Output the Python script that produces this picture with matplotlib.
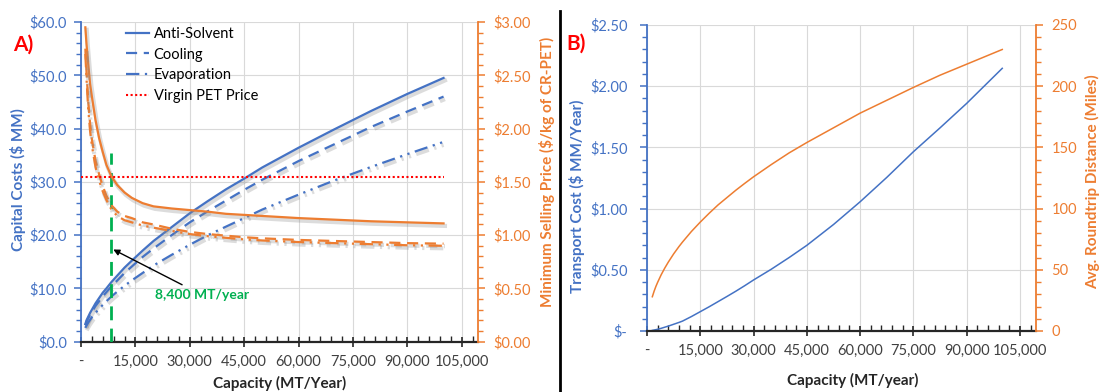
"""Capital cost / selling price vs. capacity (A) and transport cost / distance vs. capacity (B)."""

import matplotlib

matplotlib.use("Agg")
import matplotlib.pyplot as plt
import matplotlib.patheffects as pe
from matplotlib.ticker import FuncFormatter, MultipleLocator

BLUE = "#4472C4"
ORANGE = "#ED7D31"
GREEN = "#00B050"
GRID = "#D9D9D9"
TEXT = "#404040"

plt.rcParams["font.family"] = ["Lato", "DejaVu Sans"]

# ---- panel A data -------------------------------------------------------
capacity_a = [1200, 1500, 2000, 2500, 3000, 4000, 5000, 6000, 7000, 8400,
              10000, 12000, 14000, 17000, 20000, 25000, 30000, 35000, 40000,
              45000, 50000, 60000, 70000, 80000, 90000, 100000]

capex_anti_solvent = [3.3, 4.0, 4.7, 5.4, 6.0, 7.2, 8.2, 9.2, 10.0, 11.2,
                      12.4, 13.9, 15.2, 17.1, 18.9, 21.5, 24.1, 26.4, 28.6,
                      30.6, 32.7, 36.4, 39.9, 43.3, 46.5, 49.5]
capex_cooling = [3.1, 3.7, 4.4, 5.0, 5.6, 6.7, 7.6, 8.5, 9.3, 10.4,
                 11.5, 12.9, 14.1, 15.9, 17.5, 20.0, 22.4, 24.5, 26.5,
                 28.5, 30.4, 33.9, 37.1, 40.3, 43.2, 46.0]
capex_evaporation = [2.6, 3.0, 3.6, 4.1, 4.6, 5.4, 6.2, 6.9, 7.6, 8.5,
                     9.4, 10.5, 11.5, 12.9, 14.3, 16.3, 18.2, 20.0, 21.6,
                     23.2, 24.8, 27.6, 30.3, 32.8, 35.2, 37.5]

msp_anti_solvent = [2.95, 2.80, 2.60, 2.42, 2.30, 2.08, 1.91, 1.78, 1.66, 1.55,
                    1.47, 1.40, 1.35, 1.30, 1.27, 1.25, 1.235, 1.22, 1.20,
                    1.19, 1.18, 1.16, 1.145, 1.13, 1.12, 1.11]
msp_cooling = [2.75, 2.55, 2.25, 2.05, 1.90, 1.70, 1.57, 1.46, 1.37, 1.28,
               1.22, 1.18, 1.16, 1.12, 1.10, 1.06, 1.03, 1.01, 0.995,
               0.98, 0.97, 0.955, 0.945, 0.935, 0.925, 0.92]
msp_evaporation = [2.70, 2.48, 2.18, 1.98, 1.84, 1.64, 1.51, 1.41, 1.33, 1.24,
                   1.18, 1.14, 1.12, 1.09, 1.07, 1.04, 1.01, 0.99, 0.975,
                   0.96, 0.95, 0.935, 0.925, 0.915, 0.905, 0.90]

virgin_pet_x = [0, 100000]
virgin_pet_price = 1.55

breakeven_capacity = 8400

# ---- panel B data -------------------------------------------------------
capacity_b = [1500, 2000, 2500, 3000, 4000, 5000, 6000, 7500, 9000, 10000,
              12500, 15000, 17500, 20000, 22500, 25000, 27500, 30000, 35000,
              40000, 45000, 52500, 60000, 67500, 75000, 82500, 90000, 100000]
transport_cost = [0.005, 0.008, 0.011, 0.014, 0.022, 0.031, 0.040, 0.055, 0.070,
                  0.081, 0.118, 0.158, 0.198, 0.24, 0.282, 0.325, 0.37, 0.417,
                  0.505, 0.60, 0.70, 0.87, 1.056, 1.255, 1.465, 1.66, 1.86,
                  2.146]
roundtrip_miles = [28, 32.5, 36.4, 39.8, 46, 51.4, 56.3, 63, 69, 72.7,
                   81.3, 89, 96.2, 103, 109, 115, 120.6, 126, 136,
                   145.5, 154, 166, 178, 188.5, 199, 209, 218, 230]

FIG_W, FIG_H = 1102, 392
fig = plt.figure(figsize=(FIG_W / 100, FIG_H / 100), dpi=100)


def box(x0, y0, x1, y1):
    # pixel box (top-left origin) -> figure fraction rect
    return [x0 / FIG_W, 1 - y1 / FIG_H, (x1 - x0) / FIG_W, (y1 - y0) / FIG_H]


def cap_fmt(v, _):
    return "-" if abs(v) < 1 else f"{v:,.0f}"


def style_x(ax):
    ax.set_xlim(0, 109500)
    ax.xaxis.set_major_locator(MultipleLocator(15000))
    ax.xaxis.set_minor_locator(MultipleLocator(3000))
    ax.xaxis.set_major_formatter(FuncFormatter(cap_fmt))
    ax.tick_params(axis="x", which="major", direction="inout", length=7,
                   width=1.2, color="#262626", labelsize=10.5, labelcolor=TEXT, pad=6)
    ax.tick_params(axis="x", which="minor", direction="in", length=4,
                   width=1.0, color="#262626")
    ax.spines["bottom"].set_color("#262626")
    ax.spines["bottom"].set_linewidth(1.6)
    ax.spines["top"].set_visible(False)
    ax.grid(True, which="major", color=GRID, lw=0.8)
    ax.set_axisbelow(True)


def style_y(ax, side, color, pad):
    ax.spines[side].set_color(color)
    ax.spines[side].set_linewidth(1.3)
    ax.tick_params(axis="y", which="major", direction="out", length=5, width=1.1,
                   color=color, labelcolor=color, labelsize=10.5, pad=pad)
    ax.tick_params(axis="y", which="minor", direction="out", length=3.5, width=1.0,
                   color=color)


shadow = [pe.SimpleLineShadow(offset=(1, -1.8), shadow_color="0.55", alpha=0.3,
                              linewidth=3), pe.Normal()]

dash_cool = (0, (5, 3))
dash_evap = (0, (6, 2.5, 1, 2.5, 1, 2.5))

# ---- panel A ------------------------------------------------------------
ax = fig.add_axes(box(81, 22, 478, 341.7))
ax2 = ax.twinx()
for s in ("right", "top"):
    ax.spines[s].set_visible(False)
for s in ("left", "top", "bottom"):
    ax2.spines[s].set_visible(False)

style_x(ax)
style_y(ax, "left", BLUE, pad=5)
style_y(ax2, "right", ORANGE, pad=6)

ax.set_ylim(0, 60)
ax.yaxis.set_major_locator(MultipleLocator(10))
ax.yaxis.set_minor_locator(MultipleLocator(2))
ax.yaxis.set_major_formatter(FuncFormatter(lambda v, _: f"${v:.1f}"))
ax2.set_ylim(0, 3)
ax2.yaxis.set_major_locator(MultipleLocator(0.5))
ax2.yaxis.set_minor_locator(MultipleLocator(0.1))
ax2.yaxis.set_major_formatter(FuncFormatter(lambda v, _: f"${v:.2f}"))

ax.plot(capacity_a, capex_anti_solvent, color=BLUE, lw=1.6, path_effects=shadow)
ax.plot(capacity_a, capex_cooling, color=BLUE, lw=1.6, ls=dash_cool,
        path_effects=shadow)
ax.plot(capacity_a, capex_evaporation, color=BLUE, lw=1.6, ls=dash_evap,
        path_effects=shadow)
ax.vlines(breakeven_capacity, 0, 35.5, color=GREEN, lw=2, ls=(0, (5, 3)), zorder=3)

ax2.plot(capacity_a, msp_anti_solvent, color=ORANGE, lw=1.6, path_effects=shadow)
ax2.plot(capacity_a, msp_cooling, color=ORANGE, lw=1.6, ls=dash_cool,
         path_effects=shadow)
ax2.plot(capacity_a, msp_evaporation, color=ORANGE, lw=1.6, ls=dash_evap,
         path_effects=shadow)
l_virgin, = ax2.plot(virgin_pet_x, [virgin_pet_price] * 2, color="#FF0000",
                     lw=1.5, ls=(0, (1, 1.2)), label="Virgin PET Price")

ax2.annotate(f"{breakeven_capacity:,} MT/year", xy=(8900, 17.3 / 20),
             xytext=(33300, 8.8 / 20), ha="center", va="center",
             color=GREEN, fontsize=10, fontweight="bold",
             arrowprops=dict(arrowstyle="-|>", color="black", lw=1,
                             mutation_scale=9, shrinkA=2, shrinkB=0))

# legend handles use plain lines (no shadow)
leg_handles = [plt.Line2D([], [], color=BLUE, lw=1.6, label="Anti-Solvent"),
               plt.Line2D([], [], color=BLUE, lw=1.6, ls=dash_cool, label="Cooling"),
               plt.Line2D([], [], color=BLUE, lw=1.6, ls=dash_evap, label="Evaporation"),
               l_virgin]
ax2.legend(handles=leg_handles, loc="upper left",
           bbox_to_anchor=(126 / FIG_W, 1 - 27 / FIG_H),
           bbox_transform=fig.transFigure, frameon=False, fontsize=10.5,
           handlelength=1.6, handletextpad=0.3, labelspacing=0.45,
           borderpad=0, borderaxespad=0)

# ---- panel B ------------------------------------------------------------
bx = fig.add_axes(box(647, 25, 1036, 331))
bx2 = bx.twinx()
for s in ("right", "top"):
    bx.spines[s].set_visible(False)
for s in ("left", "top", "bottom"):
    bx2.spines[s].set_visible(False)

style_x(bx)
style_y(bx, "left", BLUE, pad=9)
style_y(bx2, "right", ORANGE, pad=6)

bx.set_ylim(0, 2.5)
bx.yaxis.set_major_locator(MultipleLocator(0.5))
bx.yaxis.set_minor_locator(MultipleLocator(0.1))
bx.yaxis.set_major_formatter(
    FuncFormatter(lambda v, _: "$-" if abs(v) < 1e-9 else f"${v:.2f}"))
bx2.set_ylim(0, 250)
bx2.yaxis.set_major_locator(MultipleLocator(50))
bx2.yaxis.set_minor_locator(MultipleLocator(10))

bx.plot(capacity_b, transport_cost, color=BLUE, lw=1.1)
bx2.plot(capacity_b, roundtrip_miles, color=ORANGE, lw=1.1)

# ---- labels -------------------------------------------------------------
def ftext(x, y, s, **kw):
    fig.text(x / FIG_W, 1 - y / FIG_H, s, ha="center", va="center", **kw)


ftext(18, 180, "Capital Costs ($ MM)", rotation=90, color=BLUE,
      fontsize=11, fontweight="bold")
ftext(547, 172, "Minimum Selling Price ($/kg of CR-PET)", rotation=90,
      color=ORANGE, fontsize=11, fontweight="bold")
ftext(280, 383, "Capacity (MT/Year)", color="#262626", fontsize=11,
      fontweight="bold")
ftext(577, 196, "Transport Cost ($ MM/Year)", rotation=90, color=BLUE,
      fontsize=11, fontweight="bold")
ftext(1093, 182, "Avg. Roundtrip Distance (Miles)", rotation=90,
      color=ORANGE, fontsize=11, fontweight="bold")
ftext(853, 380, "Capacity (MT/year)", color="#262626", fontsize=11,
      fontweight="bold")

ftext(23, 45, "A)", color="#FF0000", fontsize=15, fontweight="bold")
ftext(576, 44, "B)", color="#FF0000", fontsize=15, fontweight="bold")

# panel divider
fig.add_artist(plt.Line2D([560 / FIG_W] * 2, [0, 1 - 11 / FIG_H],
                          transform=fig.transFigure, color="black", lw=2))

fig.savefig("out.png", dpi=100)
